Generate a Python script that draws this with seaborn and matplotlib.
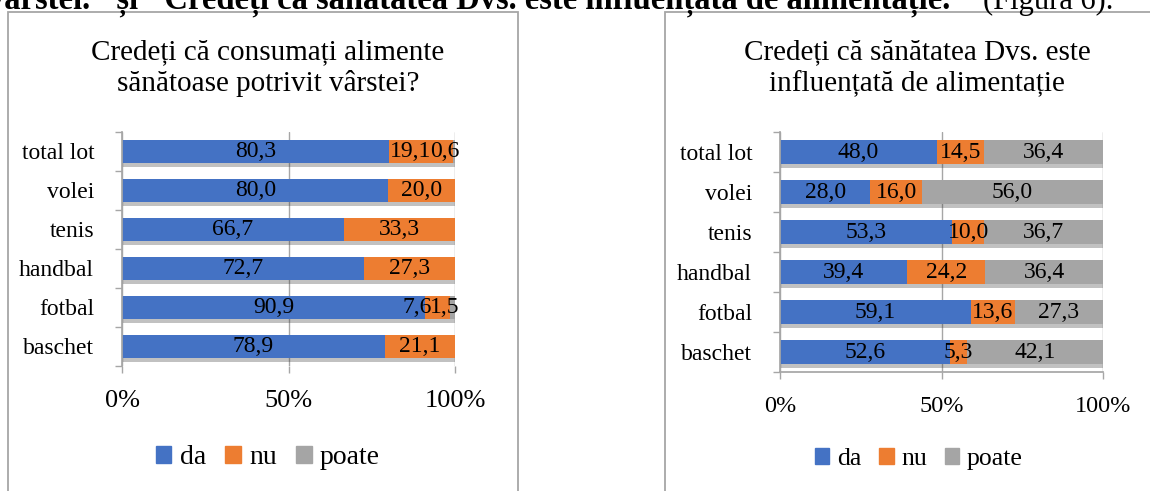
import numpy as np
import pandas as pd
import seaborn as sns
import matplotlib.pyplot as plt
import matplotlib.patheffects as pe
from matplotlib.patches import Patch, Rectangle

sns.set_theme(style='white', rc={'text.color': 'black', 'xtick.color': 'black',
                                 'ytick.color': 'black', 'axes.labelcolor': 'black'})
plt.rcParams['font.family'] = ['Liberation Serif', 'DejaVu Serif']

sports = ['total lot', 'volei', 'tenis', 'handbal', 'fotbal', 'baschet']
answers = ['da', 'nu', 'poate']
colors = ['#4472C4', '#ED7D31', '#A5A5A5']
x_ticks = [0, 50, 100]
x_tick_labels = ['0%', '50%', '100%']

# Credeti ca consumati alimente sanatoase potrivit varstei?
food_da = [80.3, 80.0, 66.7, 72.7, 90.9, 78.9]
food_nu = [19.1, 20.0, 33.3, 27.3, 7.6, 21.1]
food_poate = [0.6, 0, 0, 0, 1.5, 0]

# Credeti ca sanatatea Dvs. este influentata de alimentatie
health_da = [48.0, 28.0, 53.3, 39.4, 59.1, 52.6]
health_nu = [14.5, 16.0, 10.0, 24.2, 13.6, 5.3]
health_poate = [36.4, 56.0, 36.7, 36.4, 27.3, 42.1]

grey = '#A6A6A6'


def stacked(ax, da, nu, poate, tick_size, bottom_line):
    df = pd.DataFrame({'sport': sports, 'da': da, 'nu': nu, 'poate': poate})
    pct = df[answers].div(df[answers].sum(axis=1), axis=0) * 100
    cum = pct.cumsum(axis=1)

    # draw cumulative bars from the back so they look stacked
    first = True
    for col, color in reversed(list(zip(answers, colors))):
        n_before = len(ax.patches)
        sns.barplot(x=cum[col], y=df['sport'], color=color, saturation=1,
                    width=0.6, orient='h', linewidth=0, ax=ax)
        if first:
            for p in ax.patches[n_before:]:
                p.set_path_effects([pe.SimplePatchShadow(offset=(0, -3), alpha=0.3),
                                    pe.Normal()])
            first = False

    rows = []
    for i in range(len(sports)):
        row = []
        for col in answers:
            raw = df.loc[i, col]
            if raw > 0:
                xc = cum.loc[i, col] - pct.loc[i, col] / 2
                row.append(ax.text(xc, i, f'{raw:.1f}'.replace('.', ','), ha='center',
                                   va='center', fontsize=17))
        rows.append(row)

    ax.set_xlim(0, 100)
    ax.set_ylim(len(sports) - 0.5, -0.5)
    ax.set_xticks(x_ticks)
    ax.set_xticklabels(x_tick_labels, fontsize=tick_size)
    ax.set_xlabel('')
    ax.set_ylabel('')
    ax.tick_params(axis='y', labelsize=17)
    ax.xaxis.grid(True, color=grey, lw=1)
    ax.set_axisbelow(True)
    for s in ['top', 'right']:
        ax.spines[s].set_visible(False)
    ax.spines['left'].set_color(grey)
    ax.spines['bottom'].set_color(grey)
    ax.spines['bottom'].set_visible(bottom_line)
    ax.set_yticks(np.arange(-0.5, len(sports), 1), minor=True)
    ax.tick_params(axis='y', which='major', left=False, length=0, pad=20)
    ax.tick_params(axis='y', which='minor', left=True, length=5, color=grey, width=1)
    ax.tick_params(axis='x', which='major', bottom=True, length=5, color=grey,
                   width=1, pad=12)
    return rows


def push_labels(ax, rows, renderer):
    # keep labels inside the plot and push overlapping ones to the left
    inv = ax.transData.inverted()
    right_px = ax.transData.transform((100, 0))[0] + 4
    for row in rows:
        limit = right_px
        for t in reversed(row):
            bb = t.get_window_extent(renderer)
            if bb.x1 > limit:
                shift = bb.x1 - limit
                xd = ax.transData.transform((t.get_position()[0], 0))[0] - shift
                t.set_x(inv.transform((xd, 0))[0])
                bb = t.get_window_extent(renderer)
            limit = bb.x0 + 2


fig = plt.figure(figsize=(11.5, 4.91), dpi=100)
W, H = 1150, 491

ax1 = fig.add_axes([122 / W, 1 - 366 / H, 333 / W, 234 / H])
rows1 = stacked(ax1, food_da, food_nu, food_poate, 19, False)

ax2 = fig.add_axes([780 / W, 1 - 372 / H, 323 / W, 240 / H])
rows2 = stacked(ax2, health_da, health_nu, health_poate, 17.5, True)

fig.canvas.draw()
renderer = fig.canvas.get_renderer()
push_labels(ax1, rows1, renderer)
push_labels(ax2, rows2, renderer)

# chart frames
fig.add_artist(Rectangle((8 / W, -0.1), 510 / W, 1.1 - 12 / H, transform=fig.transFigure,
                         fill=False, ec=grey, lw=1.3))
fig.add_artist(Rectangle((665 / W, -0.1), 0.5, 1.1 - 12 / H, transform=fig.transFigure,
                         fill=False, ec=grey, lw=1.3))

fig.text(268 / W, 1 - 68 / H, 'Credeți că consumați alimente\nsănătoase potrivit vârstei?',
         ha='center', va='center', fontsize=21, linespacing=1.25)
fig.text(917 / W, 1 - 68 / H, 'Credeți că sănătatea Dvs. este\ninfluențată de alimentație',
         ha='center', va='center', fontsize=21, linespacing=1.25)

handles = [Patch(color=c, label=a) for a, c in zip(answers, colors)]
fig.legend(handles=handles, loc='center', bbox_to_anchor=(268 / W, 1 - 458 / H), ncol=3,
           frameon=False, fontsize=20, handlelength=0.55, handleheight=0.55,
           handletextpad=0.3, columnspacing=0.7)
fig.legend(handles=handles, loc='center', bbox_to_anchor=(919 / W, 1 - 459 / H), ncol=3,
           frameon=False, fontsize=18.5, handlelength=0.55, handleheight=0.55,
           handletextpad=0.3, columnspacing=0.7)

# document text line cut off above the charts
fig.text(968 / W, 1 - 9 / H,
         'vârstei." și "Credeți că sănătatea Dvs. este influențată de alimentație."',
         ha='right', va='baseline', fontsize=23.5, fontweight='bold')
fig.text(1113 / W, 1 - 9 / H, '(Figura 6).', ha='right', va='baseline', fontsize=22)

fig.savefig('out.png', dpi=100)
